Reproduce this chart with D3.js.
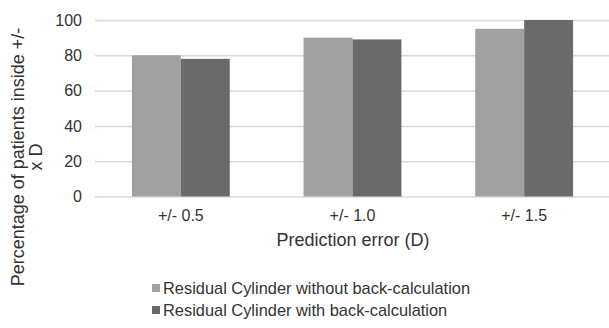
<!DOCTYPE html>
<html>
<head>
<meta charset="utf-8">
<script src="https://cdn.jsdelivr.net/npm/d3@7"></script>
<style>
  html, body { margin: 0; padding: 0; background: #fff; }
  svg { display: block; font-family: "Liberation Sans", Arial, sans-serif; }
</style>
</head>
<body>
<svg id="chart" width="609" height="328"></svg>
<script>
const categories = ["+/- 0.5", "+/- 1.0", "+/- 1.5"];
const seriesNames = ["Residual Cylinder without back-calculation", "Residual Cylinder with back-calculation"];
const withoutBack = [80, 90, 95];
const withBack = [78, 89, 100];
const yTicks = [0, 20, 40, 60, 80, 100];
const colors = ["#a1a1a1", "#6a6a6a"];

const seriesValues = [withoutBack, withBack];
const data = categories.map((c, i) => ({ cat: c, values: seriesValues.map((s, j) => ({ key: seriesNames[j], v: s[i], j })) }));

const svg = d3.select("#chart");
const mLeft = 95, mRight = 609, mTop = 20, mBottom = 196.5;
const textColor = "#333";

const x0 = d3.scaleBand().domain(categories).range([mLeft, 610]).paddingInner(0.43).paddingOuter(0.215);
const x1 = d3.scaleBand().domain(seriesNames).range([0, x0.bandwidth()]).padding(0);
const y = d3.scaleLinear().domain([0, 100]).range([mBottom, mTop]);

// gridlines + y tick labels
const yAxis = d3.axisLeft(y).tickValues(yTicks).tickSize(-(mRight - mLeft)).tickPadding(13).tickFormat(d3.format("d"));
const gy = svg.append("g").attr("transform", `translate(${mLeft},0)`).call(yAxis);
gy.select(".domain").remove();
gy.selectAll(".tick line").attr("stroke", "#d9d9d9").attr("stroke-width", 1.5);
gy.selectAll(".tick text").attr("fill", textColor).style("font-size", "16px");

// bars
const groups = svg.append("g").selectAll("g").data(data).join("g")
  .attr("transform", d => `translate(${x0(d.cat)},0)`);
groups.selectAll("rect").data(d => d.values).join("rect")
  .attr("x", d => x1(d.key))
  .attr("width", x1.bandwidth())
  .attr("y", d => y(d.v))
  .attr("height", d => y(0) - y(d.v))
  .attr("fill", d => colors[d.j]);

// x axis labels
const xAxis = d3.axisBottom(x0).tickSize(0).tickPadding(13);
const gx = svg.append("g").attr("transform", `translate(0,${mBottom})`).call(xAxis);
gx.select(".domain").remove();
gx.selectAll(".tick text").attr("fill", textColor).style("font-size", "16px");

// x title
svg.append("text").attr("x", 353).attr("y", 246).attr("text-anchor", "middle")
  .attr("fill", textColor).style("font-size", "18px").text("Prediction error (D)");

// y title
const yt = svg.append("text").attr("transform", "translate(0,157) rotate(-90)")
  .attr("text-anchor", "middle").attr("fill", textColor).style("font-size", "18px");
yt.append("tspan").attr("x", 0).attr("y", 24).text("Percentage of patients inside +/-");
yt.append("tspan").attr("x", 0).attr("y", 42).text("x D");

// legend
const leg = svg.append("g").selectAll("g").data(seriesNames).join("g")
  .attr("transform", (d, i) => `translate(152,${284 + i * 22})`);
leg.append("rect").attr("width", 8).attr("height", 8).attr("fill", (d, i) => colors[i]);
leg.append("text").attr("x", 11).attr("y", 4).attr("dy", "0.35em")
  .attr("fill", textColor).style("font-size", "16.4px").text(d => d);
</script>
</body>
</html>
